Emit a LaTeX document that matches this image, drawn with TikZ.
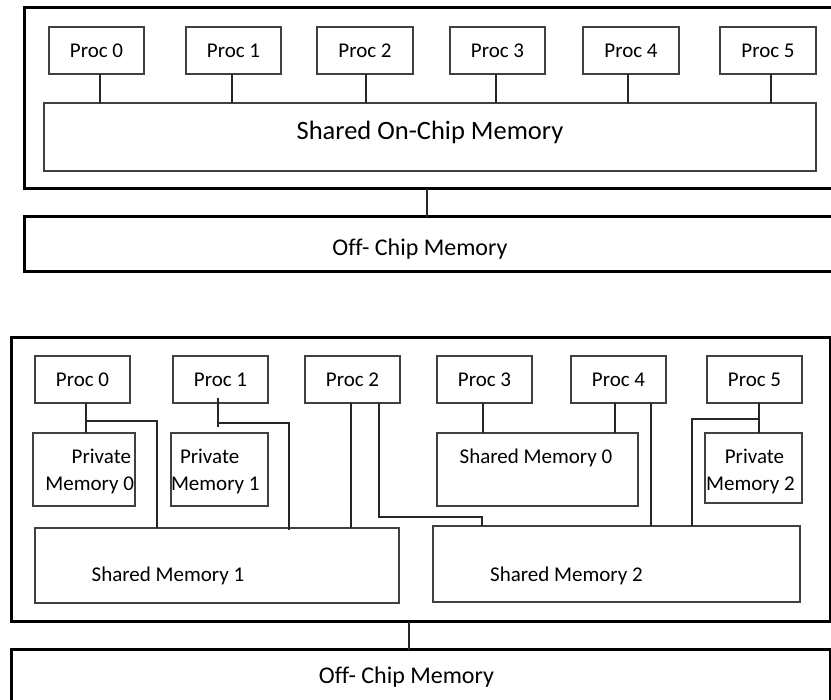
\documentclass[tikz,border=0pt]{standalone}
\usepackage{fontspec}
\setmainfont{Carlito}[Ligatures=NoCommon]
\begin{document}
\begin{tikzpicture}[x=1pt,y=-1pt,
  frame/.style={draw=black, line width=3pt, rectangle, inner sep=0pt, outer sep=0pt, anchor=north west},
  box/.style={draw=black!75, line width=1.3pt, rectangle, inner sep=0pt, outer sep=0pt, anchor=north west, text=black, font=\fontsize{21}{25}\selectfont},
  wire/.style={draw=black!85, line width=1.3pt},
  lbl/.style={inner sep=0pt, outer sep=0pt, anchor=base, text=black, font=\fontsize{21}{25}\selectfont},
  bigl/.style={lbl, font=\fontsize{26.5}{30}\selectfont},
  offl/.style={lbl, font=\fontsize{24}{28}\selectfont}]
\fill[white] (0,0) rectangle (831,700);
\useasboundingbox (0,0) rectangle (831,700);
\clip (0,0) rectangle (831,700);

% ---------- single shared on-chip memory ----------
\node[frame, minimum width=821, minimum height=181] (chipA) at (24,8) {};
\node[box, minimum width=95, minimum height=47] (a0) at (49,27) {Proc 0};
\node[box, minimum width=95, minimum height=47] (a1) at (186,27) {Proc 1};
\node[box, minimum width=96, minimum height=47] (a2) at (317,27) {Proc 2};
\node[box, minimum width=95, minimum height=47] (a3) at (450,27) {Proc 3};
\node[box, minimum width=96, minimum height=47] (a4) at (583,27) {Proc 4};
\node[box, minimum width=96, minimum height=47] (a5) at (720,27) {Proc 5};
\node[box, minimum width=772, minimum height=68] (onchip) at (44,103) {};
\node[bigl] (onchipT) at (430,140) {Shared On-Chip Memory};
\node[frame, minimum width=821, minimum height=55] (offA) at (24,217) {};
\node[offl] (offAT) at (420,256) {Off- Chip Memory};

\coordinate (ta0) at (100,0);
\coordinate (ta1) at (232,0);
\coordinate (ta2) at (366,0);
\coordinate (ta3) at (496,0);
\coordinate (ta4) at (628,0);
\coordinate (ta5) at (771,0);
\coordinate (tk) at (427,0);
\foreach \i in {0,...,5} {
  \draw[wire] (a\i.south -| ta\i) -- (onchip.north -| ta\i);
}
\draw[wire] (chipA.south -| tk) -- (offA.north -| tk);

% ---------- private and shared memories ----------
\node[frame, minimum width=819.5, minimum height=284] (chipB) at (11,338) {};
\node[box, minimum width=95, minimum height=47] (b0) at (35,356) {Proc 0};
\node[box, minimum width=95, minimum height=47] (b1) at (173,356) {Proc 1};
\node[box, minimum width=95, minimum height=47] (b2) at (305,356) {Proc 2};
\node[box, minimum width=95, minimum height=47] (b3) at (437,356) {Proc 3};
\node[box, minimum width=95, minimum height=47] (b4) at (571,356) {Proc 4};
\node[box, minimum width=95, minimum height=47] (b5) at (707,356) {Proc 5};

\node[box, minimum width=102, minimum height=73] (pm0) at (33,433) {};
\node[box, minimum width=97, minimum height=73] (pm1) at (171,433) {};
\node[box, minimum width=201, minimum height=73] (sm0) at (437,433) {};
\node[box, minimum width=97, minimum height=70] (pm2) at (705,433) {};
\node[box, minimum width=364, minimum height=75] (sm1) at (35,528) {};
\node[box, minimum width=367, minimum height=76] (sm2) at (433,526) {};

\node[lbl, anchor=base east] (pm0a) at (131,463.5) {Private};
\node[lbl, anchor=base east] (pm0b) at (134,491) {Memory 0};
\node[lbl, anchor=base west] (pm1a) at (180,463.5) {Private};
\node[lbl, anchor=base west] (pm1b) at (171,491) {Memory 1};
\node[lbl] (pm2a) at (754.5,463.5) {Private};
\node[lbl] (pm2b) at (750.5,491) {Memory 2};
\node[lbl] (sm0T) at (536,463.5) {Shared Memory 0};
\node[lbl] (sm1T) at (168,582) {Shared Memory 1};
\node[lbl] (sm2T) at (566.5,582) {Shared Memory 2};

\node[frame, minimum width=819.5, minimum height=70] (offB) at (11,650) {};
\node[offl] (offBT) at (406.5,684) {Off- Chip Memory};

% wiring of the processors
\coordinate (j0) at (86,421);
\coordinate (j0e) at (157,421);
\draw[wire] (b0.south -| j0) -- (pm0.north -| j0);
\draw[wire] (j0) -- (j0e) -- (sm1.north -| j0e);

\coordinate (j1s) at (218,398);
\coordinate (j1e) at (218,427);
\coordinate (j1) at (218,423);
\coordinate (j1k) at (289,423);
\coordinate (j1m) at (289,530);
\draw[wire] (j1s) -- (j1e);
\draw[wire] (j1) -- (j1k) -- (j1m);

\coordinate (j2a) at (351,0);
\draw[wire] (b2.south -| j2a) -- (sm1.north -| j2a);
\coordinate (j2b) at (379,517);
\coordinate (j2k) at (482,517);
\draw[wire] (b2.south -| j2b) -- (j2b) -- (j2k) -- (sm2.north -| j2k);

\coordinate (j3) at (483,0);
\draw[wire] (b3.south -| j3) -- (sm0.north -| j3);

\coordinate (j4a) at (615,0);
\coordinate (j4b) at (651,0);
\draw[wire] (b4.south -| j4a) -- (sm0.north -| j4a);
\draw[wire] (b4.south -| j4b) -- (sm2.north -| j4b);

\coordinate (j5) at (759,419);
\coordinate (j5k) at (692,419);
\draw[wire] (b5.south -| j5) -- (pm2.north -| j5);
\draw[wire] (j5) -- (j5k) -- (sm2.north -| j5k);

\coordinate (tb) at (409,0);
\draw[wire] (chipB.south -| tb) -- (offB.north -| tb);
\end{tikzpicture}
\end{document}
